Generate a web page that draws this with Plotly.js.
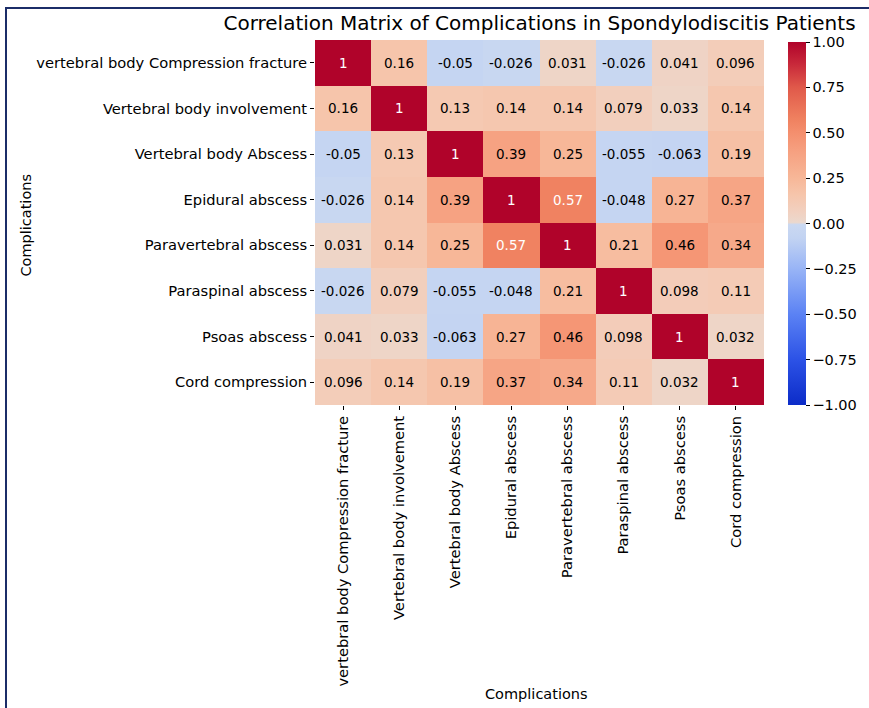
<!DOCTYPE html>
<html>
<head>
<meta charset="utf-8">
<script src="https://cdn.plot.ly/plotly-3.0.1.min.js"></script>
<style>
html,body{margin:0;padding:0;background:#fff;}
#chart{width:869px;height:708px;position:absolute;left:0;top:0;}
#frame{position:absolute;left:5px;top:7px;width:869px;height:708px;border-top:2px solid #1b2d68;border-left:2px solid #1b2d68;pointer-events:none;}
</style>
</head>
<body>
<div id="chart"></div>
<div id="frame"></div>
<script>
var labels = ["vertebral body Compression fracture","Vertebral body involvement","Vertebral body Abscess","Epidural abscess","Paravertebral abscess","Paraspinal abscess","Psoas abscess","Cord compression"];
var row1 = [1, 0.16, -0.05, -0.026, 0.031, -0.026, 0.041, 0.096];
var row2 = [0.16, 1, 0.13, 0.14, 0.14, 0.079, 0.033, 0.14];
var row3 = [-0.05, 0.13, 1, 0.39, 0.25, -0.055, -0.063, 0.19];
var row4 = [-0.026, 0.14, 0.39, 1, 0.57, -0.048, 0.27, 0.37];
var row5 = [0.031, 0.14, 0.25, 0.57, 1, 0.21, 0.46, 0.34];
var row6 = [-0.026, 0.079, -0.055, -0.048, 0.21, 1, 0.098, 0.11];
var row7 = [0.041, 0.033, -0.063, 0.27, 0.46, 0.098, 1, 0.032];
var row8 = [0.096, 0.14, 0.19, 0.37, 0.34, 0.11, 0.032, 1];
var z = [row1, row2, row3, row4, row5, row6, row7, row8];
var cbTicks = [-1, -0.75, -0.5, -0.25, 0, 0.25, 0.5, 0.75, 1];

var colorscale = [
  [0, '#0c2cc8'], [0.125, '#2c52e6'], [0.25, '#5b82f4'], [0.375, '#98b4f6'],
  [0.46, '#c2d3f2'], [0.497, '#cad8f1'], [0.503, '#ebd8cd'], [0.53, '#f1d1c1'],
  [0.58, '#f6c5ab'], [0.625, '#f7b798'], [0.7, '#f6a080'], [0.75, '#f48f6e'],
  [0.79, '#ef805f'], [0.875, '#e0594a'], [0.94, '#c8283a'], [1, '#b0032a']
];

var font = 'DejaVu Sans, sans-serif';
var annotations = [];
for (var i = 0; i < labels.length; i++) {
  for (var j = 0; j < labels.length; j++) {
    var v = z[i][j];
    annotations.push({
      x: labels[j], y: labels[i], xref: 'x', yref: 'y',
      text: String(v), showarrow: false,
      font: {family: font, size: 13.5, color: v > 0.5 ? '#ffffff' : '#000000'}
    });
  }
}
annotations.push({text: 'Complications', xref: 'paper', yref: 'paper', x: 0.4934, y: -0.792,
  showarrow: false, font: {family: font, size: 14.5, color: '#000'}, xanchor: 'center', yanchor: 'middle'});
annotations.push({text: 'Complications', xref: 'paper', yref: 'paper', x: -0.6425, y: 0.493,
  textangle: -90, showarrow: false, font: {family: font, size: 14.5, color: '#000'}, xanchor: 'center', yanchor: 'middle'});

var trace = {
  type: 'heatmap', x: labels, y: labels, z: z,
  zmin: -1, zmax: 1, colorscale: colorscale, hoverongaps: false,
  colorbar: {
    x: 1.0526, xanchor: 'left', xpad: 0, ypad: 0, y: 0, yanchor: 'bottom',
    len: 0.994, lenmode: 'fraction', thickness: 18, outlinewidth: 0,
    tickvals: cbTicks, tickformat: '.2f', ticks: 'outside', ticklen: 4, tickcolor: '#000',
    tickfont: {family: font, size: 14.5, color: '#000'}
  }
};

var layout = {
  width: 869, height: 708,
  margin: {l: 315, r: 98, t: 40, b: 303},
  paper_bgcolor: 'rgba(0,0,0,0)', plot_bgcolor: '#fff',
  title: {text: 'Correlation Matrix of Complications in Spondylodiscitis Patients',
    font: {family: font, size: 20, color: '#000'}, x: 0.5, xref: 'paper', xanchor: 'center',
    y: 1 - 23/708, yref: 'container', yanchor: 'middle'},
  xaxis: {type: 'category', tickangle: -90, ticks: 'outside', ticklen: 4, tickcolor: '#000',
    tickfont: {family: font, size: 14.7, color: '#000'}, showgrid: false, zeroline: false,
    showline: false, automargin: false, fixedrange: true},
  yaxis: {type: 'category', autorange: 'reversed', ticks: 'outside', ticklen: 4, tickcolor: '#000',
    tickfont: {family: font, size: 14.7, color: '#000'}, showgrid: false, zeroline: false,
    showline: false, automargin: false, fixedrange: true},
  annotations: annotations
};

Plotly.newPlot('chart', [trace], layout, {displayModeBar: false, staticPlot: true});
</script>
</body>
</html>
